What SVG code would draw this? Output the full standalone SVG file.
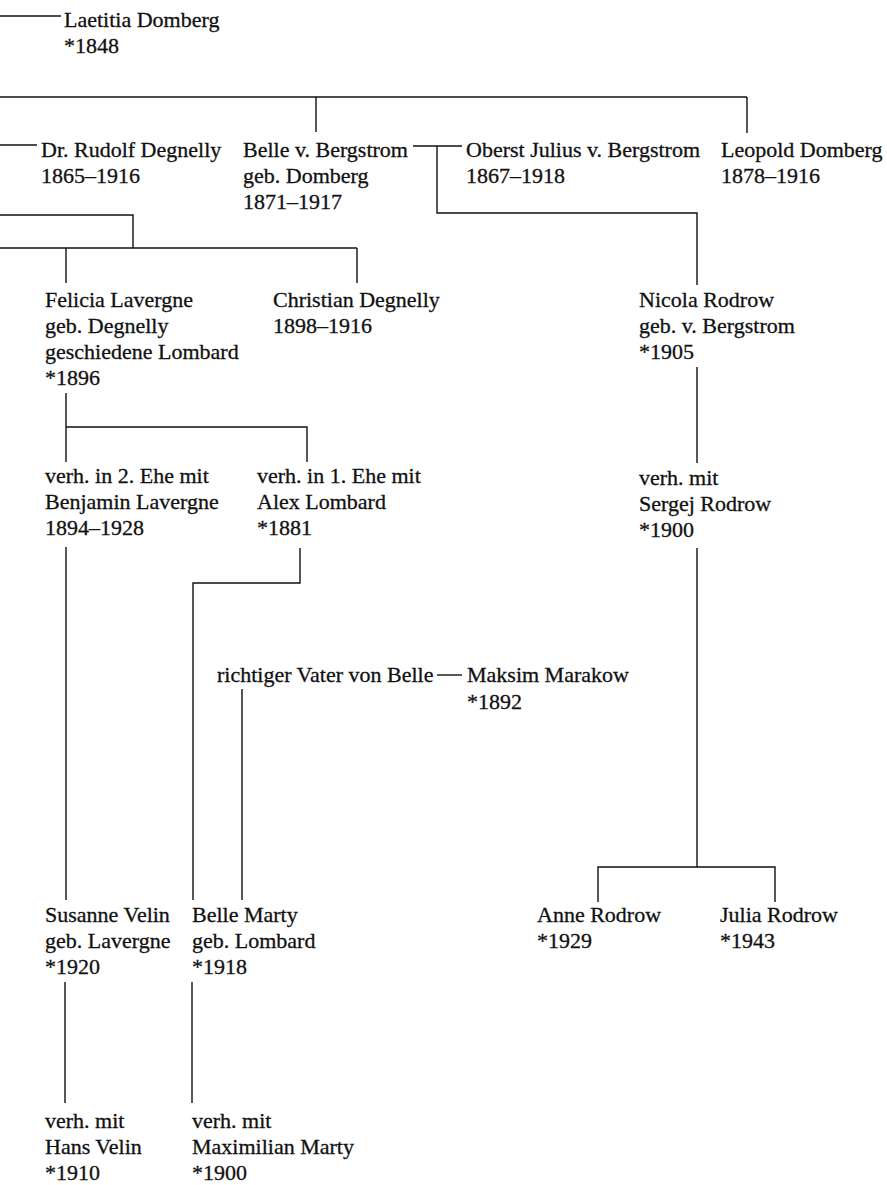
<svg xmlns="http://www.w3.org/2000/svg" width="887" height="1185" viewBox="0 0 887 1185">
<style>
text{font-family:"Liberation Serif","Times New Roman",serif;font-size:22px;fill:#111;stroke:#111;stroke-width:0.3}
.c line,.c polyline{stroke:#111;stroke-width:1.4;fill:none}
</style>
<rect width="887" height="1185" fill="#fff"/>
<g class="c" id="connectors">
<line x1="0" y1="16" x2="61" y2="16"/>
<line x1="0" y1="97" x2="747" y2="97"/>
<line x1="316" y1="97" x2="316" y2="132"/>
<line x1="747" y1="97" x2="747" y2="133"/>
<line x1="0" y1="145" x2="37" y2="145"/>
<line x1="413" y1="146" x2="462" y2="146"/>
<polyline points="437,146 437,213 697,213 697,285"/>
<polyline points="0,215 133,215 133,248"/>
<line x1="0" y1="248" x2="357" y2="248"/>
<line x1="66" y1="248" x2="66" y2="283"/>
<line x1="357" y1="248" x2="357" y2="283"/>
<line x1="66" y1="393" x2="66" y2="462"/>
<polyline points="66,427 307,427 307,462"/>
<line x1="66" y1="547" x2="66" y2="900"/>
<polyline points="300,548 300,583 193,583 193,900"/>
<line x1="437" y1="675" x2="462" y2="675"/>
<line x1="242" y1="689" x2="242" y2="900"/>
<line x1="697" y1="367" x2="697" y2="463"/>
<line x1="697" y1="548" x2="697" y2="867"/>
<polyline points="598,902 598,867 775,867 775,902"/>
<line x1="65" y1="982" x2="65" y2="1103"/>
<line x1="192" y1="982" x2="192" y2="1103"/>
</g>
<g id="laetitia"><text x="64" y="27">Laetitia Domberg</text><text x="64" y="53">*1848</text></g>
<g id="rudolf"><text x="41" y="157">Dr. Rudolf Degnelly</text><text x="41" y="183">1865–1916</text></g>
<g id="belle"><text x="243" y="157">Belle v. Bergstrom</text><text x="243" y="183">geb. Domberg</text><text x="243" y="209">1871–1917</text></g>
<g id="julius"><text x="466" y="157">Oberst Julius v. Bergstrom</text><text x="466" y="183">1867–1918</text></g>
<g id="leopold"><text x="721" y="157">Leopold Domberg</text><text x="721" y="183">1878–1916</text></g>
<g id="felicia"><text x="45" y="307">Felicia Lavergne</text><text x="45" y="333">geb. Degnelly</text><text x="45" y="359">geschiedene Lombard</text><text x="45" y="385">*1896</text></g>
<g id="christian"><text x="273" y="307">Christian Degnelly</text><text x="273" y="333">1898–1916</text></g>
<g id="nicola"><text x="639" y="307">Nicola Rodrow</text><text x="639" y="333">geb. v. Bergstrom</text><text x="639" y="359">*1905</text></g>
<g id="benjamin"><text x="45" y="483">verh. in 2. Ehe mit</text><text x="45" y="509">Benjamin Lavergne</text><text x="45" y="535">1894–1928</text></g>
<g id="alex"><text x="257" y="483">verh. in 1. Ehe mit</text><text x="257" y="509">Alex Lombard</text><text x="257" y="535">*1881</text></g>
<g id="sergej"><text x="639" y="485">verh. mit</text><text x="639" y="511">Sergej Rodrow</text><text x="639" y="537">*1900</text></g>
<g id="richtiger"><text x="217" y="682">richtiger Vater von Belle</text></g>
<g id="maksim"><text x="467" y="682">Maksim Marakow</text><text x="467" y="709">*1892</text></g>
<g id="susanne"><text x="45" y="922">Susanne Velin</text><text x="45" y="948">geb. Lavergne</text><text x="45" y="974">*1920</text></g>
<g id="bellemarty"><text x="192" y="922">Belle Marty</text><text x="192" y="948">geb. Lombard</text><text x="192" y="974">*1918</text></g>
<g id="anne"><text x="537" y="922">Anne Rodrow</text><text x="537" y="948">*1929</text></g>
<g id="julia"><text x="720" y="922">Julia Rodrow</text><text x="720" y="948">*1943</text></g>
<g id="hans"><text x="45" y="1128">verh. mit</text><text x="45" y="1154">Hans Velin</text><text x="45" y="1180">*1910</text></g>
<g id="maximilian"><text x="192" y="1128">verh. mit</text><text x="192" y="1154">Maximilian Marty</text><text x="192" y="1180">*1900</text></g>
</svg>
